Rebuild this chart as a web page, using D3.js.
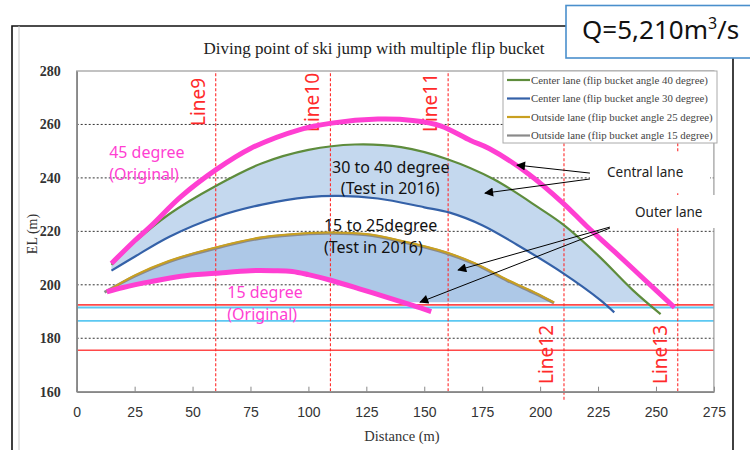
<!DOCTYPE html>
<html>
<head>
<meta charset="utf-8">
<script src="https://cdn.jsdelivr.net/npm/d3@7"></script>
<style>
  body { margin: 0; background: #fff; }
  svg { display: block; }
</style>
</head>
<body>
<svg id="chart" width="750" height="450"></svg>
<script>
// ---- data (distance m, EL m) ----
const xTicks = [0, 25, 50, 75, 100, 125, 150, 175, 200, 225, 250, 275];
const yTicks = [160, 180, 200, 220, 240, 260, 280];
const gridLevels = [180, 200, 220, 240, 260];
const redLevels = [192.5, 175.5];
const cyanLevels = [191.5, 186.5];

const sectionNames = ["Line9", "Line10", "Line11", "Line12", "Line13"];
const sectionX = [60, 109.5, 160.3, 210.3, 259.4];

const center40 = [[15,207.5],[25,216],[40,226.5],[60,237],[80,245.5],[100,250.5],[120,252.5],[140,251.5],[160,247],[180,239.5],[200,228.5],[210,222.5],[225,211],[240,198],[252,189]];
const center30 = [[15,205.3],[25,210.5],[40,218],[60,225.3],[80,230],[100,232.8],[113,233.3],[130,232.3],[150,229],[161,227],[175,222.3],[190,215],[210,204.3],[226,194.3],[232,189.7]];
const outside25 = [[13,197.4],[25,203.5],[40,209],[60,214],[80,217.8],[100,219.4],[110,219.6],[125,219],[140,216.5],[159,212.3],[172,208],[186,201.8],[198,197],[206,193.4]];
const outside15 = [[12,197.2],[25,203.2],[40,208.7],[60,213.7],[80,217.5],[100,219.1],[110,219.3],[125,218.7],[140,216.2],[159,212],[172,207.7],[186,201.5],[198,196.7],[206,193.2]];
const orig45 = [[15,208],[25,216.5],[32,222],[45,233],[60,243],[75,251],[96,258],[110,260.5],[130,262],[145,261.5],[157,259.5],[170,254],[178,251],[195,241.5],[210,230.5],[220,222],[232,212.5],[245,202],[258,191.5]];
const orig15 = [[13,197.4],[20,199],[32,201.2],[45,203.2],[60,204.3],[75,205.3],[85,205.3],[93,205],[100,203.8],[110,201.6],[122,198.5],[135,195],[145,192.3],[153,190]];
const fillFloor = 193.5;

const legendLabels = [
  "Center lane (flip bucket angle 40 degree)",
  "Center lane (flip bucket angle 30 degree)",
  "Outside lane (flip bucket angle 25 degree)",
  "Outside lane (flip bucket angle 15 degree)"
];

// ---- layout ----
const svg = d3.select("#chart");
const x = d3.scaleLinear().domain([0, 275]).range([76.7, 713.9]);
const y = d3.scaleLinear().domain([160, 280]).range([391.7, 71]);
const curve = d3.curveCatmullRom.alpha(0.5);
const line = d3.line().x(d => x(d[0])).y(d => y(d[1])).curve(curve);

const colors = {
  green: "#5e8c3c", blue: "#3461a8", gold: "#c9a020", gray: "#8a8a8a",
  pink: "#ff3fd2", red: "#ff2a2a", cyan: "#5cc8f2"
};

const defs = svg.append("defs");
defs.append("clipPath").attr("id", "plotClip")
  .append("rect")
  .attr("x", x(0)).attr("y", y(280))
  .attr("width", x(275) - x(0)).attr("height", y(160) - y(280));
defs.append("marker")
  .attr("id", "arrow")
  .attr("viewBox", "0 0 10 10")
  .attr("refX", 9).attr("refY", 5)
  .attr("markerWidth", 13).attr("markerHeight", 9)
  .attr("markerUnits", "userSpaceOnUse")
  .attr("orient", "auto")
  .append("path").attr("d", "M0,0L10,5L0,10Z").attr("fill", "#000");

// outer frame + Q box
svg.append("path")
  .attr("d", "M12,450V26H566")
  .attr("fill", "none").attr("stroke", "#111").attr("stroke-width", 1.6);
svg.append("line").attr("x1", 19).attr("x2", 19).attr("y1", 26).attr("y2", 450)
  .attr("stroke", "#c8c8c8").attr("stroke-width", 1);
svg.append("line").attr("x1", 733).attr("x2", 733).attr("y1", 58).attr("y2", 450)
  .attr("stroke", "#111").attr("stroke-width", 1.6);
svg.append("rect").attr("x", 566).attr("y", 5.5).attr("width", 190).attr("height", 52.5)
  .attr("fill", "#fff").attr("stroke", "#4a8fcc").attr("stroke-width", 1.6);
const q = svg.append("text").attr("x", 582).attr("y", 39)
  .attr("font-family", "Noto Sans").attr("font-size", 26).attr("fill", "#111");
q.append("tspan").text("Q=5,210m");
q.append("tspan").attr("font-size", 16).attr("dy", -10).text("3");
q.append("tspan").attr("dy", 10).text("/s");

// title
svg.append("text").attr("x", 374).attr("y", 54).attr("text-anchor", "middle")
  .attr("font-family", "Liberation Serif").attr("font-size", 17).attr("fill", "#222")
  .text("Diving point of ski jump with multiple flip bucket");

// grid
svg.append("g").selectAll("line").data(gridLevels).join("line")
  .attr("x1", x(0)).attr("x2", x(275))
  .attr("y1", d => y(d)).attr("y2", d => y(d))
  .attr("stroke", "#333").attr("stroke-width", 1).attr("stroke-dasharray", "2,2");

// water / reference levels
svg.append("g").selectAll("line").data(redLevels).join("line")
  .attr("x1", x(0)).attr("x2", x(275))
  .attr("y1", d => y(d)).attr("y2", d => y(d))
  .attr("stroke", colors.red).attr("stroke-width", 1.6).attr("opacity", 0.85);
svg.append("g").selectAll("line").data(cyanLevels).join("line")
  .attr("x1", x(0)).attr("x2", x(275))
  .attr("y1", d => y(d)).attr("y2", d => y(d))
  .attr("stroke", colors.cyan).attr("stroke-width", 1.8);

// shaded ranges (test 2016)
function crossAt(pts, level) {
  for (let i = 1; i < pts.length; i++) {
    const a = pts[i - 1], b = pts[i];
    if (a[1] >= level && b[1] < level) return a[0] + (b[0] - a[0]) * (a[1] - level) / (a[1] - b[1]);
  }
  return pts[pts.length - 1][0];
}
function bandPath(top, bottom, floor) {
  const t = top.filter(d => d[1] >= floor);
  const b = bottom.filter(d => d[1] >= floor);
  const tx = crossAt(top, floor), bx = crossAt(bottom, floor);
  const upper = line(t.concat([[tx, floor]]));
  const lower = line([[bx, floor]].concat(b.slice().reverse()));
  return upper + "L" + lower.slice(1) + "Z";
}
svg.append("path").attr("d", bandPath(center40, center30, fillFloor))
  .attr("fill", "#c4d8ee").attr("stroke", "none");
svg.append("path").attr("d", bandPath(outside25, orig15, fillFloor))
  .attr("fill", "#adc8e7").attr("stroke", "none");

// section lines
const sec = svg.append("g").attr("clip-path", "url(#plotClip)");
sec.selectAll("line").data(sectionX).join("line")
  .attr("x1", d => x(d)).attr("x2", d => x(d))
  .attr("y1", y(281)).attr("y2", y(160))
  .attr("stroke", colors.red).attr("stroke-width", 1.1).attr("stroke-dasharray", "3,2");
svg.append("line").attr("x1", x(sectionX[3])).attr("x2", x(sectionX[3]))
  .attr("y1", y(160)).attr("y2", y(157))
  .attr("stroke", colors.red).attr("stroke-width", 1.1).attr("stroke-dasharray", "3,2");
sec.selectAll("text").data(sectionNames).join("text")
  .attr("transform", (d, i) => {
    const bx = x(sectionX[i]) - 11;
    const by = i < 3 ? (i === 0 ? 126 : 132) : 384;
    return `translate(${bx},${by}) rotate(-90)`;
  })
  .attr("font-family", "Noto Sans").attr("font-size", 19).attr("fill", colors.red)
  .text(d => d);

// axes frame
svg.append("rect").attr("x", x(0)).attr("y", y(280))
  .attr("width", x(275) - x(0)).attr("height", y(160) - y(280))
  .attr("fill", "none").attr("stroke", "#9a9a9a").attr("stroke-width", 1.2);

const xAxis = svg.append("g").attr("transform", `translate(0,${y(160)})`)
  .call(d3.axisBottom(x).tickValues(xTicks).tickSizeInner(-5).tickSizeOuter(0).tickPadding(15));
xAxis.select(".domain").attr("stroke", "#888").attr("stroke-width", 1.6);
xAxis.selectAll(".tick line").attr("stroke", "#888");
xAxis.selectAll("text").attr("font-family", "Liberation Sans").attr("font-size", 14).attr("fill", "#333");

const yAxis = svg.append("g").attr("transform", `translate(${x(0)},0)`)
  .call(d3.axisLeft(y).tickValues(yTicks).tickSize(0).tickPadding(16));
yAxis.select(".domain").attr("stroke", "#888").attr("stroke-width", 1.6);
yAxis.selectAll("text").attr("font-family", "Liberation Serif").attr("font-size", 14)
  .attr("fill", "#333").attr("font-weight", "bold");

svg.append("text").attr("x", 402).attr("y", 441).attr("text-anchor", "middle")
  .attr("font-family", "Liberation Serif").attr("font-size", 14.5).attr("fill", "#333")
  .text("Distance (m)");
svg.append("text").attr("transform", "translate(37,234) rotate(-90)").attr("text-anchor", "middle")
  .attr("font-family", "Liberation Serif").attr("font-size", 14).attr("fill", "#333")
  .text("EL (m)");

// trajectories
const series = [
  { data: outside15, color: colors.gray, w: 3 },
  { data: outside25, color: colors.gold, w: 2 },
  { data: center30, color: colors.blue, w: 2.2 },
  { data: center40, color: colors.green, w: 2.2 },
  { data: orig15, color: colors.pink, w: 5 },
  { data: orig45, color: colors.pink, w: 5 }
];
svg.append("g").selectAll("path").data(series).join("path")
  .attr("d", d => line(d.data))
  .attr("fill", "none")
  .attr("stroke", d => d.color)
  .attr("stroke-width", d => d.w)
  .attr("stroke-linecap", "butt");

// text annotations
const annot = [
  { t: ["45 degree", "(Original)"], at: [14, 247.4], color: colors.pink },
  { t: ["15 degree", "(Original)"], at: [65, 195], color: colors.pink },
  { t: ["30 to 40 degree"], at: [110.2, 242], color: "#111" },
  { t: ["(Test in 2016)"], at: [114, 234], color: "#111" },
  { t: ["15 to 25degree"], at: [106.7, 220.3], color: "#111" },
  { t: ["(Test in 2016)"], at: [106.7, 211.8], color: "#111" }
];
annot.forEach(a => {
  const tx = svg.append("text").attr("x", x(a.at[0])).attr("y", y(a.at[1]))
    .attr("font-family", "Noto Sans").attr("font-size", 16).attr("fill", a.color);
  a.t.forEach((s, i) => tx.append("tspan").attr("x", x(a.at[0])).attr("dy", i ? 22 : 0).text(s));
});

// legend
const lg = svg.append("g").attr("transform", "translate(503,71)");
lg.append("rect").attr("width", 214).attr("height", 72)
  .attr("fill", "#fff").attr("stroke", "#aaa").attr("stroke-width", 1);
const legColors = [colors.green, colors.blue, colors.gold, colors.gray];
const item = lg.selectAll("g").data(legendLabels).join("g")
  .attr("transform", (d, i) => `translate(0,${9 + i * 18.5})`);
item.append("line").attr("x1", 4).attr("x2", 27)
  .attr("stroke", (d, i) => legColors[i]).attr("stroke-width", 2.2);
item.append("text").attr("x", 28).attr("y", 3.5)
  .attr("font-family", "Liberation Serif").attr("font-size", 10.8).attr("fill", "#444")
  .text(d => d);

// lane callouts
svg.append("rect").attr("x", 590).attr("y", 153).attr("width", 120).attr("height", 39).attr("fill", "#fff");
svg.append("rect").attr("x", 622).attr("y", 195).attr("width", 95).attr("height", 33).attr("fill", "#fff");
svg.append("text").attr("x", 607).attr("y", 177)
  .attr("font-family", "Noto Sans").attr("font-size", 13.5).attr("fill", "#222").text("Central lane");
svg.append("text").attr("x", 635).attr("y", 217)
  .attr("font-family", "Noto Sans").attr("font-size", 13.5).attr("fill", "#222").text("Outer lane");

const arrows = [
  [[221.5, 241.8], [190, 244.8]],
  [[221.5, 239.6], [176.2, 234.3]],
  [[230.1, 221.6], [164.6, 205.5]],
  [[230.1, 221.2], [148.2, 193.5]]
];
svg.append("g").selectAll("line").data(arrows).join("line")
  .attr("x1", d => x(d[0][0])).attr("y1", d => y(d[0][1]))
  .attr("x2", d => x(d[1][0])).attr("y2", d => y(d[1][1]))
  .attr("stroke", "#000").attr("stroke-width", 1)
  .attr("marker-end", "url(#arrow)");
</script>
</body>
</html>
